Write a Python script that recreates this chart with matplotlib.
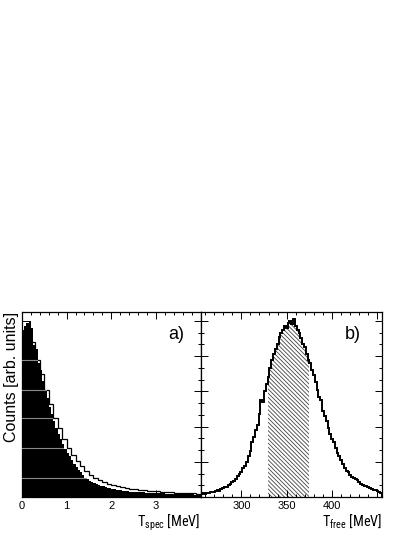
import numpy as np
import matplotlib
matplotlib.use("Agg")
import matplotlib.pyplot as plt
from matplotlib.ticker import MultipleLocator, NullFormatter

plt.rcParams["font.family"] = ["Liberation Sans", "DejaVu Sans"]
plt.rcParams["mathtext.fontset"] = "custom"
plt.rcParams["mathtext.rm"] = "Roboto Condensed"
plt.rcParams["hatch.linewidth"] = 0.6
plt.rcParams["hatch.color"] = "#444444"
narrow = ["Roboto Condensed", "Liberation Sans", "DejaVu Sans"]

# panel a) spectator kinetic energy, two histograms
spec_edges_fine = np.arange(0.0, 4.0001, 0.05)
spec_filled = [
    0.95, 0.97, 0.99, 1.00, 0.96, 0.86, 0.84, 0.76, 0.72, 0.66,
    0.61, 0.56, 0.51, 0.47, 0.43, 0.39, 0.36, 0.33, 0.30, 0.275,
    0.25, 0.23, 0.21, 0.19, 0.17, 0.155, 0.14, 0.125, 0.11, 0.1,
    0.092, 0.087, 0.082, 0.075, 0.07, 0.065, 0.06, 0.057, 0.053, 0.05,
    0.047, 0.044, 0.042, 0.04, 0.038, 0.036, 0.034, 0.032, 0.031, 0.03,
    0.029, 0.028, 0.027, 0.026, 0.026, 0.025, 0.024, 0.023, 0.023, 0.022,
    0.021, 0.021, 0.02, 0.02, 0.019, 0.019, 0.018, 0.018, 0.017, 0.017,
    0.017, 0.016, 0.016, 0.016, 0.015, 0.015, 0.015, 0.014, 0.014, 0.014,
]
spec_edges_coarse = np.arange(0.0, 4.0001, 0.1)
spec_open = [
    0.90, 0.93, 0.88, 0.78, 0.70, 0.61, 0.53, 0.45, 0.39, 0.33,
    0.28, 0.24, 0.205, 0.175, 0.145, 0.125, 0.11, 0.095, 0.085, 0.075,
    0.068, 0.06, 0.055, 0.05, 0.046, 0.043, 0.04, 0.039, 0.036, 0.034,
    0.032, 0.03, 0.029, 0.027, 0.025, 0.024, 0.022, 0.021, 0.02, 0.018,
]
band_levels = [0.78, 0.61, 0.45, 0.28, 0.11]

# panel b) free kinetic energy
free_edges = np.arange(255.0, 455.001, 2.0)
free_counts = [
    0.015, 0.02, 0.018, 0.025, 0.022, 0.028, 0.03, 0.027, 0.035, 0.04,
    0.036, 0.047, 0.05, 0.058, 0.055, 0.07, 0.075, 0.085, 0.09, 0.105,
    0.12, 0.13, 0.14, 0.165, 0.175, 0.2, 0.23, 0.26, 0.31, 0.34,
    0.38, 0.41, 0.47, 0.55, 0.54, 0.6, 0.64, 0.68, 0.73, 0.78,
    0.81, 0.84, 0.87, 0.91, 0.93, 0.95, 0.97, 0.96, 0.99, 1.00,
    0.98, 1.01, 0.97, 0.95, 0.93, 0.9, 0.87, 0.85, 0.81, 0.78,
    0.76, 0.72, 0.69, 0.65, 0.61, 0.57, 0.55, 0.49, 0.46, 0.43,
    0.39, 0.36, 0.33, 0.31, 0.28, 0.25, 0.23, 0.21, 0.19, 0.165,
    0.15, 0.14, 0.125, 0.115, 0.11, 0.1, 0.095, 0.085, 0.075, 0.07,
    0.065, 0.06, 0.055, 0.05, 0.045, 0.042, 0.037, 0.033, 0.03, 0.025,
]
hatch_range = (329.0, 375.0)
free_ticks = [300, 350, 400, 450]
free_tick_labels = ["300", "350", "400", ""]

fig = plt.figure(figsize=(4.15, 5.37), dpi=100)
ax_a = fig.add_axes([22 / 415, 1 - 497 / 537, 178.5 / 415, 185 / 537])
ax_b = fig.add_axes([200.5 / 415, 1 - 497 / 537, 181.5 / 415, 185 / 537])

# a)
filled = ax_a.stairs(spec_filled, spec_edges_fine, fill=True, color="black", zorder=2)
for lev in band_levels:
    ln = ax_a.axhline(lev, color="#8a8a8a", lw=0.8, zorder=3)
    ln.set_clip_path(filled)
ax_a.stairs(spec_open, spec_edges_coarse, color="black", lw=0.9, zorder=1)
ax_a.set_xlim(0, 4)
ax_a.xaxis.set_minor_locator(MultipleLocator(0.2))
ax_a.set_xticks([0, 1, 2, 3])
ax_a.text(0.865, 0.88, "a)", transform=ax_a.transAxes, ha="center", va="center", fontsize=13)
ax_a.set_xlabel(r"T$_{\rm spec}$ [MeV]", fontsize=10.3, loc="right", labelpad=1, family=narrow)
ax_a.set_ylabel("Counts [arb. units]", fontsize=11.5, loc="top", labelpad=-1)

# b)
centers = 0.5 * (free_edges[:-1] + free_edges[1:])
sel = (centers > hatch_range[0]) & (centers < hatch_range[1])
sel_idx = np.where(sel)[0]
ax_b.stairs(np.array(free_counts)[sel], free_edges[sel_idx[0]:sel_idx[-1] + 2],
            fill=True, facecolor="none", edgecolor="#444444", hatch="\\" * 8, lw=0, zorder=1)
ax_b.stairs(free_counts, free_edges, color="black", lw=1.4, zorder=2)
ax_b.set_xlim(255, 455)
ax_b.set_xticks(free_ticks, labels=free_tick_labels)
ax_b.xaxis.set_minor_locator(MultipleLocator(10))
ax_b.text(0.84, 0.88, "b)", transform=ax_b.transAxes, ha="center", va="center", fontsize=13)
ax_b.set_xlabel(r"T$_{\rm free}$ [MeV]", fontsize=10.3, loc="right", labelpad=1, family=narrow)

for ax in (ax_a, ax_b):
    ax.set_ylim(0, 1.05)
    ax.yaxis.set_major_locator(MultipleLocator(0.2))
    ax.yaxis.set_minor_locator(MultipleLocator(0.2 / 3))
    ax.yaxis.set_major_formatter(NullFormatter())
    ax.tick_params(which="both", direction="in", top=True, right=True, width=0.7)
    ax.tick_params(which="major", length=5, labelsize=8, pad=3)
    ax.tick_params(which="minor", length=2.5)
    for s in ax.spines.values():
        s.set_linewidth(0.9)

fig.savefig("out.png", dpi=100)
